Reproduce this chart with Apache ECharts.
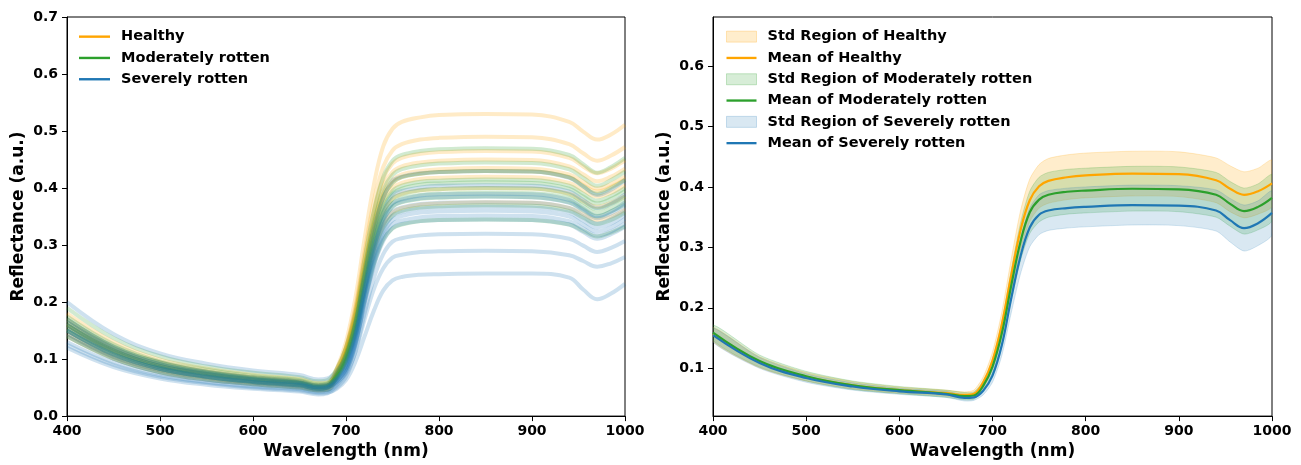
<!DOCTYPE html>
<html>
<head>
<meta charset="utf-8">
<script src="https://cdn.jsdelivr.net/npm/echarts@6/dist/echarts.min.js"></script>
<style>
  html, body { margin: 0; padding: 0; background: #fff; }
  #chart { width: 1301px; height: 465px; }
</style>
</head>
<body>
<div id="chart"></div>
<script>
// wavelengths (nm) sampled for every curve
var wavelengths = [400, 450, 500, 550, 600, 650, 670, 680, 690, 700, 710, 720, 730, 740, 750, 760, 780, 800, 850, 900, 940, 955, 970, 985, 1000];

// left panel: individual spectra
var healthySpectra = [
    [0.165, 0.119, 0.091, 0.076, 0.066, 0.059, 0.053, 0.054, 0.083, 0.130, 0.206, 0.311, 0.406, 0.473, 0.504, 0.516, 0.524, 0.528, 0.530, 0.529, 0.516, 0.499, 0.485, 0.494, 0.511],
    [0.150, 0.108, 0.083, 0.069, 0.060, 0.054, 0.048, 0.050, 0.076, 0.120, 0.191, 0.288, 0.376, 0.437, 0.466, 0.477, 0.485, 0.488, 0.490, 0.489, 0.477, 0.461, 0.448, 0.457, 0.472],
    [0.170, 0.122, 0.094, 0.078, 0.068, 0.061, 0.054, 0.056, 0.081, 0.121, 0.187, 0.277, 0.359, 0.416, 0.443, 0.453, 0.460, 0.463, 0.465, 0.464, 0.453, 0.438, 0.426, 0.434, 0.449],
    [0.140, 0.101, 0.077, 0.064, 0.056, 0.050, 0.045, 0.046, 0.070, 0.111, 0.175, 0.264, 0.345, 0.402, 0.428, 0.438, 0.445, 0.448, 0.450, 0.449, 0.438, 0.424, 0.412, 0.420, 0.434],
    [0.180, 0.130, 0.099, 0.083, 0.072, 0.065, 0.058, 0.059, 0.082, 0.119, 0.179, 0.262, 0.337, 0.390, 0.414, 0.424, 0.430, 0.433, 0.435, 0.434, 0.424, 0.411, 0.399, 0.407, 0.420],
    [0.160, 0.115, 0.088, 0.074, 0.064, 0.058, 0.051, 0.053, 0.076, 0.113, 0.174, 0.257, 0.332, 0.385, 0.409, 0.419, 0.425, 0.428, 0.430, 0.429, 0.419, 0.405, 0.394, 0.402, 0.415],
    [0.155, 0.112, 0.085, 0.071, 0.062, 0.056, 0.050, 0.051, 0.073, 0.110, 0.169, 0.250, 0.324, 0.376, 0.400, 0.409, 0.416, 0.418, 0.420, 0.419, 0.409, 0.396, 0.385, 0.392, 0.405],
    [0.160, 0.115, 0.088, 0.074, 0.064, 0.058, 0.051, 0.053, 0.074, 0.109, 0.164, 0.240, 0.310, 0.358, 0.381, 0.390, 0.396, 0.398, 0.400, 0.399, 0.390, 0.377, 0.367, 0.374, 0.386],
    [0.145, 0.104, 0.080, 0.067, 0.058, 0.052, 0.046, 0.048, 0.068, 0.100, 0.153, 0.225, 0.290, 0.336, 0.357, 0.365, 0.371, 0.373, 0.375, 0.374, 0.365, 0.354, 0.344, 0.350, 0.362]
];
var moderateSpectra = [
    [0.190, 0.137, 0.105, 0.087, 0.076, 0.068, 0.061, 0.063, 0.083, 0.120, 0.181, 0.275, 0.360, 0.419, 0.448, 0.458, 0.465, 0.468, 0.470, 0.469, 0.458, 0.442, 0.427, 0.437, 0.453],
    [0.160, 0.115, 0.088, 0.074, 0.064, 0.058, 0.051, 0.053, 0.073, 0.108, 0.167, 0.257, 0.339, 0.396, 0.423, 0.433, 0.440, 0.443, 0.445, 0.444, 0.433, 0.418, 0.404, 0.414, 0.429],
    [0.150, 0.108, 0.083, 0.069, 0.060, 0.054, 0.048, 0.050, 0.069, 0.103, 0.160, 0.248, 0.327, 0.383, 0.409, 0.419, 0.425, 0.428, 0.430, 0.429, 0.419, 0.403, 0.390, 0.400, 0.414],
    [0.175, 0.126, 0.096, 0.081, 0.070, 0.063, 0.056, 0.058, 0.076, 0.108, 0.162, 0.244, 0.319, 0.370, 0.395, 0.404, 0.411, 0.413, 0.415, 0.414, 0.404, 0.390, 0.378, 0.386, 0.400],
    [0.160, 0.115, 0.088, 0.074, 0.064, 0.058, 0.051, 0.053, 0.071, 0.103, 0.157, 0.239, 0.314, 0.365, 0.390, 0.399, 0.406, 0.408, 0.410, 0.409, 0.399, 0.385, 0.373, 0.381, 0.395],
    [0.140, 0.101, 0.077, 0.064, 0.056, 0.050, 0.045, 0.046, 0.064, 0.096, 0.149, 0.230, 0.304, 0.356, 0.381, 0.389, 0.396, 0.398, 0.400, 0.399, 0.389, 0.375, 0.363, 0.372, 0.385],
    [0.150, 0.108, 0.083, 0.069, 0.060, 0.054, 0.048, 0.050, 0.067, 0.098, 0.149, 0.228, 0.300, 0.349, 0.373, 0.382, 0.388, 0.390, 0.392, 0.391, 0.382, 0.368, 0.356, 0.365, 0.378],
    [0.165, 0.119, 0.091, 0.076, 0.066, 0.059, 0.053, 0.054, 0.071, 0.100, 0.150, 0.226, 0.296, 0.344, 0.367, 0.375, 0.381, 0.383, 0.385, 0.384, 0.375, 0.362, 0.350, 0.359, 0.371],
    [0.155, 0.112, 0.085, 0.071, 0.062, 0.056, 0.050, 0.051, 0.067, 0.096, 0.144, 0.217, 0.284, 0.330, 0.352, 0.360, 0.366, 0.368, 0.370, 0.369, 0.360, 0.348, 0.337, 0.344, 0.357],
    [0.170, 0.122, 0.094, 0.078, 0.068, 0.061, 0.054, 0.056, 0.070, 0.096, 0.140, 0.206, 0.267, 0.309, 0.329, 0.336, 0.342, 0.344, 0.345, 0.344, 0.336, 0.325, 0.315, 0.322, 0.333]
];
var severeSpectra = [
    [0.200, 0.144, 0.110, 0.092, 0.080, 0.072, 0.064, 0.066, 0.079, 0.104, 0.161, 0.248, 0.328, 0.383, 0.412, 0.420, 0.426, 0.428, 0.430, 0.429, 0.418, 0.403, 0.388, 0.397, 0.414],
    [0.160, 0.115, 0.088, 0.074, 0.064, 0.058, 0.051, 0.053, 0.065, 0.090, 0.145, 0.229, 0.306, 0.359, 0.387, 0.395, 0.401, 0.404, 0.405, 0.404, 0.394, 0.379, 0.365, 0.373, 0.389],
    [0.145, 0.104, 0.080, 0.067, 0.058, 0.052, 0.046, 0.048, 0.060, 0.084, 0.137, 0.219, 0.294, 0.346, 0.373, 0.380, 0.387, 0.389, 0.390, 0.389, 0.379, 0.364, 0.351, 0.359, 0.375],
    [0.165, 0.119, 0.091, 0.076, 0.066, 0.059, 0.053, 0.054, 0.066, 0.089, 0.140, 0.220, 0.292, 0.342, 0.368, 0.376, 0.382, 0.384, 0.385, 0.384, 0.374, 0.360, 0.347, 0.355, 0.370],
    [0.170, 0.122, 0.094, 0.078, 0.068, 0.061, 0.054, 0.056, 0.067, 0.089, 0.139, 0.216, 0.286, 0.334, 0.359, 0.366, 0.372, 0.374, 0.375, 0.374, 0.365, 0.351, 0.338, 0.346, 0.361],
    [0.150, 0.108, 0.083, 0.069, 0.060, 0.054, 0.048, 0.050, 0.061, 0.083, 0.132, 0.209, 0.278, 0.326, 0.351, 0.358, 0.364, 0.366, 0.367, 0.366, 0.357, 0.343, 0.331, 0.338, 0.353],
    [0.130, 0.094, 0.072, 0.060, 0.052, 0.047, 0.042, 0.043, 0.054, 0.076, 0.125, 0.202, 0.271, 0.319, 0.344, 0.351, 0.357, 0.359, 0.360, 0.359, 0.350, 0.336, 0.324, 0.331, 0.346],
    [0.140, 0.101, 0.077, 0.064, 0.056, 0.050, 0.045, 0.046, 0.057, 0.078, 0.126, 0.199, 0.266, 0.312, 0.337, 0.343, 0.349, 0.351, 0.352, 0.351, 0.342, 0.329, 0.317, 0.324, 0.338],
    [0.155, 0.112, 0.085, 0.071, 0.062, 0.056, 0.050, 0.051, 0.061, 0.082, 0.127, 0.198, 0.263, 0.307, 0.330, 0.337, 0.342, 0.344, 0.345, 0.344, 0.336, 0.323, 0.311, 0.319, 0.332],
    [0.120, 0.086, 0.066, 0.055, 0.048, 0.043, 0.038, 0.040, 0.050, 0.069, 0.113, 0.180, 0.242, 0.284, 0.306, 0.312, 0.317, 0.319, 0.320, 0.319, 0.311, 0.299, 0.288, 0.295, 0.307],
    [0.150, 0.108, 0.083, 0.069, 0.060, 0.054, 0.048, 0.050, 0.058, 0.075, 0.112, 0.170, 0.223, 0.259, 0.278, 0.283, 0.288, 0.289, 0.290, 0.289, 0.282, 0.272, 0.262, 0.268, 0.279],
    [0.125, 0.090, 0.069, 0.058, 0.050, 0.045, 0.040, 0.041, 0.048, 0.063, 0.095, 0.140, 0.185, 0.220, 0.238, 0.244, 0.248, 0.249, 0.250, 0.250, 0.243, 0.222, 0.205, 0.215, 0.232]
];

// right panel: mean and std per class
var healthyMean = [0.156, 0.110, 0.086, 0.072, 0.064, 0.059, 0.056, 0.058, 0.077, 0.113, 0.173, 0.253, 0.328, 0.378, 0.401, 0.410, 0.416, 0.419, 0.422, 0.421, 0.411, 0.397, 0.387, 0.393, 0.406];
var healthyStd = [0.012, 0.009, 0.007, 0.006, 0.005, 0.005, 0.005, 0.006, 0.009, 0.014, 0.020, 0.027, 0.032, 0.035, 0.036, 0.037, 0.037, 0.037, 0.037, 0.037, 0.037, 0.038, 0.038, 0.038, 0.038];
var moderateMean = [0.159, 0.112, 0.087, 0.072, 0.064, 0.058, 0.054, 0.055, 0.071, 0.103, 0.158, 0.236, 0.309, 0.358, 0.379, 0.387, 0.392, 0.394, 0.397, 0.396, 0.387, 0.372, 0.360, 0.367, 0.382];
var moderateStd = [0.013, 0.010, 0.008, 0.007, 0.006, 0.006, 0.006, 0.006, 0.008, 0.012, 0.018, 0.025, 0.031, 0.035, 0.037, 0.037, 0.037, 0.037, 0.037, 0.037, 0.037, 0.037, 0.038, 0.038, 0.038];
var severeMean = [0.155, 0.109, 0.084, 0.070, 0.062, 0.057, 0.051, 0.052, 0.063, 0.088, 0.138, 0.215, 0.285, 0.333, 0.354, 0.361, 0.365, 0.367, 0.370, 0.369, 0.361, 0.345, 0.332, 0.340, 0.357];
var severeStd = [0.012, 0.009, 0.007, 0.006, 0.005, 0.005, 0.005, 0.005, 0.007, 0.011, 0.017, 0.024, 0.029, 0.032, 0.033, 0.033, 0.033, 0.033, 0.033, 0.033, 0.034, 0.036, 0.038, 0.037, 0.036];

var classNames = ['Healthy', 'Moderately rotten', 'Severely rotten'];
var rightYTicks = [0.1, 0.2, 0.3, 0.4, 0.5, 0.6];

var colors = ['#ffa500', '#2ca02c', '#1f77b4'];
var fills = ['rgba(255,165,0,0.2)', 'rgba(44,160,44,0.19)', 'rgba(31,119,180,0.17)'];
var edges = ['rgba(255,165,0,0.25)', 'rgba(44,160,44,0.25)', 'rgba(31,119,180,0.22)'];

var FONT = 'DejaVu Sans';
var linePath = 'path://M0,0L31,0L31,2.4L0,2.4Z';

function pairs(values)
{
    return wavelengths.map(function (w, i) { return [w, values[i]]; });
}

function spectraSeries(list, name, color)
{
    return list.map(function (s)
    {
        return {
            name: name, type: 'line', xAxisIndex: 0, yAxisIndex: 0,
            data: pairs(s), smooth: 0.4, symbol: 'none', silent: true,
            lineStyle: {color: color, width: 4, opacity: 0.22},
            itemStyle: {color: color}
        };
    });
}

// std region drawn as one polygon: mean+std forward, mean-std back
function bandSeries(mean, std, i)
{
    return {
        name: 'Std Region of ' + classNames[i], type: 'custom', xAxisIndex: 1, yAxisIndex: 1,
        data: [[wavelengths[0], mean[0]]], silent: true, clip: true,
        itemStyle: {color: fills[i]},
        renderItem: function (params, api)
        {
            var pts = [];
            for (var k = 0; k < wavelengths.length; k++)
                pts.push(api.coord([wavelengths[k], mean[k] + std[k]]));
            for (var k2 = wavelengths.length - 1; k2 >= 0; k2--)
                pts.push(api.coord([wavelengths[k2], mean[k2] - std[k2]]));
            return {
                type: 'polygon',
                shape: {points: pts, smooth: 0.25},
                style: {fill: fills[i], stroke: edges[i], lineWidth: 0.8}
            };
        }
    };
}

function meanSeries(mean, i)
{
    return {
        name: 'Mean of ' + classNames[i], type: 'line', xAxisIndex: 1, yAxisIndex: 1,
        data: pairs(mean), smooth: 0.4, symbol: 'none', silent: true,
        lineStyle: {color: colors[i], width: 2.2},
        itemStyle: {color: colors[i]}
    };
}

function xAxis(grid)
{
    return {
        type: 'value', gridIndex: grid, min: 400, max: 1000, interval: 100,
        name: 'Wavelength (nm)', nameLocation: 'middle', nameGap: 26,
        nameTextStyle: {fontFamily: FONT, fontWeight: 'bold', fontSize: 17, color: '#000'},
        axisLine: {lineStyle: {color: '#000', width: 1}},
        axisTick: {inside: false, length: 5, lineStyle: {color: '#000'}},
        axisLabel: {fontFamily: FONT, fontWeight: 'bold', fontSize: 14, color: '#000', margin: 8,
            formatter: function (v) { return String(v); }},
        splitLine: {show: false}
    };
}

function yAxisBase(grid)
{
    return {
        type: 'value', gridIndex: grid,
        name: 'Reflectance (a.u.)', nameLocation: 'middle', nameGap: 40,
        nameTextStyle: {fontFamily: FONT, fontWeight: 'bold', fontSize: 17, color: '#000'},
        axisLine: {show: true, lineStyle: {color: '#000', width: 1}},
        axisTick: {show: true, inside: false, length: 5, lineStyle: {color: '#000'}},
        axisLabel: {fontFamily: FONT, fontWeight: 'bold', fontSize: 14, color: '#000', margin: 9,
            formatter: function (v) { return v.toFixed(1); }},
        splitLine: {show: false}
    };
}

var yLeft = yAxisBase(0);
yLeft.min = 0;
yLeft.max = 0.7;
yLeft.interval = 0.1;

var yRight = yAxisBase(1);
yRight.min = 0.021;
yRight.max = 0.681;
yRight.axisLabel.customValues = rightYTicks;
yRight.axisTick.customValues = rightYTicks;

var series = []
    .concat(spectraSeries(healthySpectra, classNames[0], colors[0]))
    .concat(spectraSeries(moderateSpectra, classNames[1], colors[1]))
    .concat(spectraSeries(severeSpectra, classNames[2], colors[2]))
    .concat([bandSeries(healthyMean, healthyStd, 0), meanSeries(healthyMean, 0)])
    .concat([bandSeries(moderateMean, moderateStd, 1), meanSeries(moderateMean, 1)])
    .concat([bandSeries(severeMean, severeStd, 2), meanSeries(severeMean, 2)]);

var legendText = {fontFamily: FONT, fontWeight: 'bold', fontSize: 14.5, color: '#000', lineHeight: 21.3, padding: [0, 0, 0, 6]};

var rightLegendData = [];
classNames.forEach(function (n, i)
{
    rightLegendData.push({name: 'Std Region of ' + n, icon: 'rect',
        itemStyle: {color: fills[i], borderColor: edges[i], borderWidth: 1, opacity: 1}});
    rightLegendData.push({name: 'Mean of ' + n, icon: linePath,
        itemStyle: {color: colors[i], opacity: 1}});
});

var myChart = echarts.init(document.getElementById('chart'));
var option = {
    animation: false,
    backgroundColor: '#fff',
    grid: [
        {left: 67, right: 676, top: 17, bottom: 44, show: true, borderColor: '#000', borderWidth: 1, backgroundColor: 'transparent'},
        {left: 713, right: 29, top: 17, bottom: 44, show: true, borderColor: '#000', borderWidth: 1, backgroundColor: 'transparent'}
    ],
    xAxis: [xAxis(0), xAxis(1)],
    yAxis: [yLeft, yRight],
    legend: [
        {
            orient: 'vertical', left: 79, top: 26, padding: 0, itemGap: 0,
            itemWidth: 31, itemHeight: 11, selectedMode: false,
            textStyle: legendText,
            data: classNames.map(function (n, i)
            {
                return {name: n, icon: linePath, itemStyle: {color: colors[i], opacity: 1}};
            })
        },
        {
            orient: 'vertical', left: 726, top: 26, padding: 0, itemGap: 0,
            itemWidth: 30, itemHeight: 11, selectedMode: false,
            textStyle: legendText,
            data: rightLegendData
        }
    ],
    series: series
};
myChart.setOption(option);
</script>
</body>
</html>
